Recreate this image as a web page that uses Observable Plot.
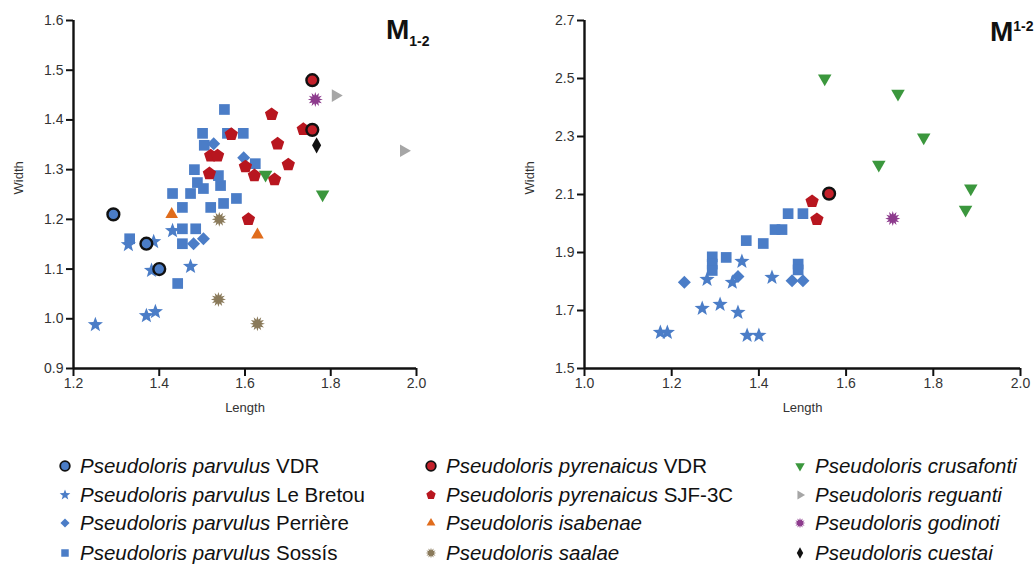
<!DOCTYPE html>
<html>
<head>
<meta charset="utf-8">
<script src="https://cdn.jsdelivr.net/npm/d3@7"></script>
<script src="https://cdn.jsdelivr.net/npm/@observablehq/plot@0.6"></script>
<style>
  html, body { margin: 0; padding: 0; background: #fff; }
  #root { position: relative; width: 1036px; height: 564px; overflow: hidden; font-family: "Liberation Sans", Arial, sans-serif; }
  .panel { position: absolute; top: 0; }
  .title { position: absolute; font-weight: bold; color: #111; font-size: 28px; line-height: 1; }
  .title sub, .title sup { font-size: 14px; }
  .legend { position: absolute; left: 0; top: 450px; width: 1036px; height: 114px; }
  .item { position: absolute; font-size: 20.5px; color: #111; white-space: nowrap; height: 24px; line-height: 24px; }
  .item svg { position: absolute; left: -22px; top: 5px; }
  .item i { font-style: italic; }
</style>
</head>
<body>
<div id="root"></div>
<script>
// ---------- Lower molars M1-2 (left panel): [length, width] ----------
const m12_parvulusVDR = [[1.293,1.21],[1.37,1.151],[1.40,1.10]];
const m12_leBretou = [[1.251,0.988],[1.328,1.149],[1.387,1.155],[1.382,1.097],[1.431,1.177],[1.473,1.105],[1.37,1.006],[1.391,1.014]];
const m12_perriere = [[1.48,1.151],[1.503,1.161],[1.527,1.352],[1.597,1.324]];
const m12_sossis = [[1.552,1.421],[1.501,1.373],[1.505,1.349],[1.559,1.373],[1.596,1.373],[1.624,1.312],[1.482,1.30],[1.489,1.274],[1.503,1.262],[1.538,1.288],[1.543,1.268],[1.431,1.252],[1.473,1.252],[1.454,1.224],[1.52,1.224],[1.55,1.232],[1.58,1.242],[1.331,1.161],[1.454,1.181],[1.485,1.181],[1.454,1.151],[1.443,1.071]];
const m12_pyrenaicusVDR = [[1.757,1.48],[1.757,1.38]];
const m12_pyrenaicusSJF = [[1.662,1.411],[1.568,1.371],[1.52,1.328],[1.536,1.328],[1.517,1.292],[1.601,1.306],[1.622,1.288],[1.669,1.28],[1.676,1.352],[1.736,1.381],[1.701,1.31],[1.608,1.20]];
const m12_isabenae = [[1.429,1.21],[1.629,1.169]];
const m12_saalae = [[1.54,1.20],[1.538,1.039],[1.629,0.99]];
const m12_crusafonti = [[1.648,1.29],[1.781,1.25]];
const m12_reguanti = [[1.811,1.449],[1.97,1.338]];
const m12_godinoti = [[1.764,1.441]];
const m12_cuestai = [[1.767,1.349]];

// ---------- Upper molars M^1-2 (right panel): [length, width] ----------
const M12_crusafonti = [[1.551,2.50],[1.719,2.448],[1.778,2.297],[1.675,2.203],[1.886,2.121],[1.874,2.048]];
const M12_pyrenaicusVDR = [[1.561,2.103]];
const M12_pyrenaicusSJF = [[1.522,2.076],[1.533,2.014]];
const M12_godinoti = [[1.707,2.017]];
const M12_sossis = [[1.467,2.034],[1.501,2.034],[1.437,1.979],[1.453,1.979],[1.371,1.941],[1.41,1.931],[1.325,1.883],[1.293,1.885],[1.293,1.86],[1.293,1.838],[1.49,1.86],[1.49,1.84]];
const M12_perriere = [[1.229,1.797],[1.352,1.817],[1.476,1.803],[1.501,1.803]];
const M12_leBretou = [[1.281,1.807],[1.339,1.797],[1.361,1.869],[1.43,1.814],[1.27,1.707],[1.311,1.721],[1.352,1.693],[1.174,1.624],[1.19,1.624],[1.373,1.614],[1.40,1.614]];

// ---------- Axis ticks ----------
const leftXTicks = [1.2, 1.4, 1.6, 1.8, 2.0];
const leftYTicks = [0.9, 1.0, 1.1, 1.2, 1.3, 1.4, 1.5, 1.6];
const rightXTicks = [1.0, 1.2, 1.4, 1.6, 1.8, 2.0];
const rightYTicks = [1.5, 1.7, 1.9, 2.1, 2.3, 2.5, 2.7];

// ---------- Legend labels ----------
const legendNames = [
  ["Pseudoloris parvulus", "VDR"], ["Pseudoloris parvulus", "Le Bretou"], ["Pseudoloris parvulus", "Perrière"], ["Pseudoloris parvulus", "Sossís"],
  ["Pseudoloris pyrenaicus", "VDR"], ["Pseudoloris pyrenaicus", "SJF-3C"], ["Pseudoloris isabenae", ""], ["Pseudoloris saalae", ""],
  ["Pseudoloris crusafonti", ""], ["Pseudoloris reguanti", ""], ["Pseudoloris godinoti", ""], ["Pseudoloris cuestai", ""]
];

// ---------- Custom symbols (radius = sqrt(size/pi)) ----------
function poly(pts) {
  return { draw(ctx, size) {
    const r = Math.sqrt(size / Math.PI);
    pts.forEach(([a, k], i) => {
      const x = r * k * Math.cos(a), y = r * k * Math.sin(a);
      i ? ctx.lineTo(x, y) : ctx.moveTo(x, y);
    });
    ctx.closePath();
  }};
}
const deg = Math.PI / 180;
const pentagon = poly(d3.range(5).map(i => [-90 * deg + i * 72 * deg, 1]));
const triDown = poly([[90 * deg, 1], [210 * deg, 1], [330 * deg, 1]]);
const triUp = poly([[-90 * deg, 1], [30 * deg, 1], [150 * deg, 1]]);
const triRight = poly([[0, 1], [120 * deg, 1], [240 * deg, 1]]);
const sunburst = poly(d3.range(24).map(i => [i * 15 * deg, i % 2 ? 0.55 : 1]));
const diamondTall = poly([[-90 * deg, 1.25], [0, 0.7], [90 * deg, 1.25], [180 * deg, 0.7]]);
const diamondSq = poly([[-90 * deg, 1], [0, 1], [90 * deg, 1], [180 * deg, 1]]);
const squareSym = poly([[-135 * deg, 1.2], [-45 * deg, 1.2], [45 * deg, 1.2], [135 * deg, 1.2]]);
const starSym = poly(d3.range(10).map(i => [-90 * deg + i * 36 * deg, i % 2 ? 0.42 : 1]));

const C = {
  blue: "#4b7dc7", red: "#b8161f", redFill: "#c4202a", orange: "#e06c1c", brown: "#8a7a5a",
  green: "#3b973d", gray: "#a6a6a6", purple: "#8d3b8d", black: "#111111"
};

const styles = {
  sossis: { symbol: squareSym, r: 6.3, fill: C.blue },
  perriere: { symbol: diamondSq, r: 6.5, fill: C.blue },
  leBretou: { symbol: starSym, r: 8, fill: C.blue },
  pyrenaicusSJF: { symbol: pentagon, r: 7, fill: C.red },
  isabenae: { symbol: triUp, r: 7.3, fill: C.orange },
  saalae: { symbol: sunburst, r: 7.5, fill: C.brown },
  crusafonti: { symbol: triDown, r: 7.8, fill: C.green },
  reguanti: { symbol: triRight, r: 7.3, fill: C.gray },
  godinoti: { symbol: sunburst, r: 7.5, fill: C.purple },
  cuestai: { symbol: diamondTall, r: 6.5, fill: C.black },
  parvulusVDR: { symbol: "circle", r: 5.9, fill: C.blue, stroke: "#111", strokeWidth: 2.4 },
  pyrenaicusVDR: { symbol: "circle", r: 5.9, fill: C.redFill, stroke: "#111", strokeWidth: 2.4 }
};

function dots(data, key) {
  const s = styles[key];
  return Plot.dot(data, { x: d => d[0], y: d => d[1], ...s });
}

function panel({ width, marginLeft, marginRight, xDomain, yDomain, xTicks, yTicks, series }) {
  return Plot.plot({
    width, height: 420, marginTop: 20, marginBottom: 52, marginLeft, marginRight,
    x: { domain: xDomain }, y: { domain: yDomain },
    style: { fontFamily: "'Liberation Sans', Arial, sans-serif", fontSize: "14px", background: "transparent", overflow: "visible" },
    marks: [
      Plot.axisY(yTicks, { tickSize: 7, tickPadding: 3, strokeWidth: 2, stroke: "#111", fill: "#333", tickFormat: d => d.toFixed(1), label: null, fontSize: 14 }),
      Plot.axisX(xTicks, { tickSize: 8, tickPadding: 2, strokeWidth: 2, stroke: "#111", fill: "#333", tickFormat: d => d.toFixed(1), label: null, fontSize: 14 }),
      Plot.ruleX([xDomain[0]], { stroke: "#111", strokeWidth: 2.4 }),
      Plot.ruleY([yDomain[0]], { stroke: "#111", strokeWidth: 2.4 }),
      Plot.text(["Width"], { text: d => d, frameAnchor: "left", dx: -55, rotate: -90, fontSize: 13, fill: "#333" }),
      Plot.text(["Length"], { text: d => d, frameAnchor: "bottom", dy: 43, fontSize: 13, fill: "#333" }),
      ...series.map(([data, key]) => dots(data, key))
    ]
  });
}

const left = panel({
  width: 440, marginLeft: 73, marginRight: 24,
  xDomain: [1.2, 2.0], yDomain: [0.9, 1.6], xTicks: leftXTicks, yTicks: leftYTicks,
  series: [
    [m12_sossis, "sossis"], [m12_perriere, "perriere"], [m12_leBretou, "leBretou"],
    [m12_pyrenaicusSJF, "pyrenaicusSJF"], [m12_isabenae, "isabenae"], [m12_saalae, "saalae"],
    [m12_crusafonti, "crusafonti"], [m12_reguanti, "reguanti"], [m12_godinoti, "godinoti"],
    [m12_cuestai, "cuestai"], [m12_parvulusVDR, "parvulusVDR"], [m12_pyrenaicusVDR, "pyrenaicusVDR"]
  ]
});
const right = panel({
  width: 526, marginLeft: 74, marginRight: 16,
  xDomain: [1.0, 2.0], yDomain: [1.5, 2.7], xTicks: rightXTicks, yTicks: rightYTicks,
  series: [
    [M12_sossis, "sossis"], [M12_perriere, "perriere"], [M12_leBretou, "leBretou"],
    [M12_pyrenaicusSJF, "pyrenaicusSJF"], [M12_crusafonti, "crusafonti"], [M12_godinoti, "godinoti"],
    [M12_pyrenaicusVDR, "pyrenaicusVDR"]
  ]
});

const root = document.getElementById("root");
left.classList.add("panel"); left.style.left = "0px";
right.classList.add("panel"); right.style.left = "510px";
root.appendChild(left);
root.appendChild(right);

const t1 = document.createElement("div");
t1.className = "title"; t1.style.left = "386px"; t1.style.top = "16px";
t1.innerHTML = "M<sub>1-2</sub>";
root.appendChild(t1);
const t2 = document.createElement("div");
t2.className = "title"; t2.style.left = "990px"; t2.style.top = "18px";
t2.innerHTML = "M<sup>1-2</sup>";
root.appendChild(t2);

// ---------- Legend ----------
const legendKeys = ["parvulusVDR", "leBretou", "perriere", "sossis", "pyrenaicusVDR", "pyrenaicusSJF", "isabenae", "saalae", "crusafonti", "reguanti", "godinoti", "cuestai"];
const legend = document.createElement("div");
legend.className = "legend";
const colX = [80, 446, 815];
const rowY = [4, 33, 61, 91];
legendKeys.forEach((key, i) => {
  const col = Math.floor(i / 4), row = i % 4;
  const s = styles[key];
  const item = document.createElement("div");
  item.className = "item";
  item.style.left = colX[col] + "px";
  item.style.top = rowY[row] + "px";
  const small = key.endsWith("VDR") ? 4.8 : s.r * 0.7;
  const sym = typeof s.symbol === "string" ? d3.symbolCircle : s.symbol;
  const path = d3.symbol(sym, Math.PI * small * small)();
  const [name, loc] = legendNames[i];
  item.innerHTML = `<svg width="14" height="14" viewBox="-7 -7 14 14"><path d="${path}" fill="${s.fill}" ${s.stroke ? `stroke="${s.stroke}" stroke-width="1.8"` : ""}></path></svg><i>${name}</i>${loc ? " " + loc : ""}`;
  legend.appendChild(item);
});
root.appendChild(legend);
</script>
</body>
</html>
